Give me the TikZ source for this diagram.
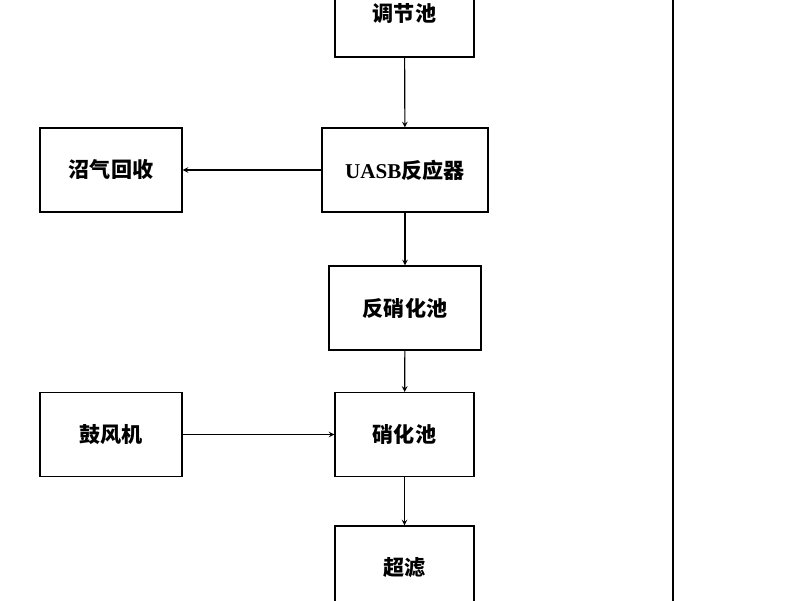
\documentclass[tikz,border=0pt]{standalone}
\usepackage{fontspec}
\newfontfamily\cjk{Noto Sans CJK SC}
\setmainfont{Liberation Serif}
\usetikzlibrary{positioning}

\tikzset{
  box/.style={draw, line width=0.8pt, minimum height=2.1cm, align=center,
              font=\cjk\bfseries\fontsize{15}{18}\selectfont},
  flow/.style={->, >=stealth, line width=0.8pt}
}

\begin{document}
\begin{tikzpicture}[x=0.025cm, y=-0.025cm]
  \useasboundingbox (0,0) rectangle (800,600);
  \clip (0,0) rectangle (800,600);

  % main line
  \node[box, minimum width=3.475cm, minimum height=2.2cm] (tiaojie) at (404.5,13) {调节池};
  \node[box, minimum width=4.15cm] (uasb) at (405,170) {{\rmfamily\bfseries UASB}反应器};
  \node[box, minimum width=3.55cm] (zhaoqi) at (111,170) {沼气回收};
  \node[box, minimum width=3.8cm] (fanxiao) at (405,308) {反硝化池};
  \node[box, minimum width=3.55cm] (gufeng) at (111,434.5) {鼓风机};
  \node[box, minimum width=3.475cm] (xiaohua) at (404.5,434.5) {硝化池};
  \node[box, minimum width=3.475cm] (chaolv) at (404.5,568) {超滤};

  \draw[flow] (tiaojie) -- (uasb);
  \draw[flow] (uasb) -- (zhaoqi);
  \draw[flow] (uasb) -- (fanxiao);
  \draw[flow] (fanxiao) -- (xiaohua);
  \draw[flow] (gufeng) -- (xiaohua);
  \draw[flow] (xiaohua) -- (chaolv);

  % return line on the right
  \coordinate (rtop) at (673,-5);
  \coordinate (rbot) at (673,605);
  \draw[line width=0.9pt] (rtop) -- (rbot);
\end{tikzpicture}
\end{document}
